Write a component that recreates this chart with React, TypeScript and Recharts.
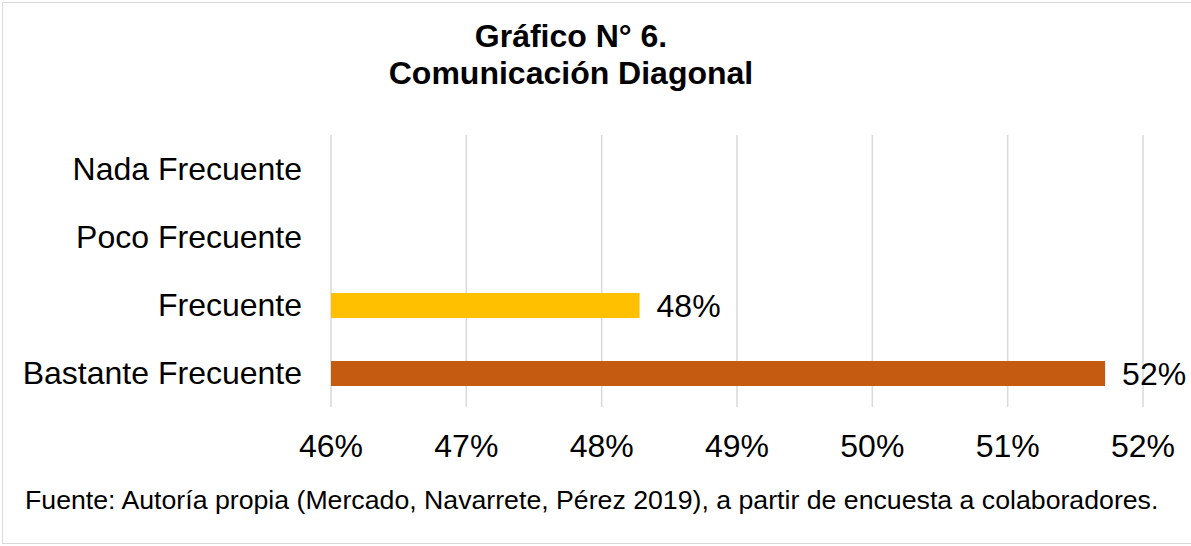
import React from "react";
import { BarChart, Bar, XAxis, YAxis, CartesianGrid, Cell, LabelList } from "recharts";

const categories = ["Nada Frecuente", "Poco Frecuente", "Frecuente", "Bastante Frecuente"];
const percentages: (number | null)[] = [null, null, 48.28, 51.72];
const barColors = ["#FFC000", "#FFC000", "#FFC000", "#C55A11"];
const xTicks = [46, 47, 48, 49, 50, 51, 52];

const data = categories.map((name, i) => ({ name, value: percentages[i] }));

const font = "'Liberation Sans', Arial, sans-serif";

const App = () => {
  return (
    <div
      style={{
        position: "absolute",
        left: 0,
        top: 0,
        width: 1191,
        height: 546,
        background: "#fff",
        fontFamily: font,
        overflow: "hidden",
      }}
    >
      <div
        style={{
          position: "absolute",
          left: 2,
          top: 2,
          width: 1200,
          height: 542,
          border: "1px solid #d9d9d9",
          boxSizing: "border-box",
        }}
      />
      <div
        style={{
          position: "absolute",
          left: 0,
          top: 18,
          width: 1142,
          textAlign: "center",
          fontWeight: "bold",
          fontSize: 32,
          lineHeight: "37px",
          color: "#000",
        }}
      >
        Gráfico N° 6.
        <br />
        Comunicación Diagonal
      </div>
      <BarChart
        width={1191}
        height={546}
        data={data}
        layout="vertical"
        margin={{ top: 135, right: 48, bottom: 79, left: 0 }}
        style={{ position: "absolute", left: 0, top: 0 }}
      >
        <CartesianGrid horizontal={false} vertical={true} stroke="#d9d9d9" strokeWidth={1.5} />
        <XAxis
          type="number"
          domain={[46, 52]}
          ticks={xTicks}
          allowDataOverflow
          axisLine={false}
          tickLine={false}
          tickSize={0}
          tickMargin={27}
          height={60}
          tickFormatter={(v: number) => `${v}%`}
          tick={{ fill: "#000", fontSize: 32, fontFamily: font }}
        />
        <YAxis
          type="category"
          dataKey="name"
          width={331}
          axisLine={false}
          tickLine={false}
          tickSize={0}
          tickMargin={29}
          tick={{ fill: "#000", fontSize: 32, fontFamily: font }}
        />
        <Bar dataKey="value" barSize={25} isAnimationActive={false}>
          {data.map((d, i) => (
            <Cell key={d.name} fill={barColors[i]} />
          ))}
          <LabelList
            dataKey="value"
            position="right"
            offset={17}
            formatter={(v: any) => (v == null ? "" : `${Math.round(v)}%`)}
            style={{ fill: "#000", fontSize: 32, fontFamily: font }}
          />
        </Bar>
      </BarChart>
      <div
        style={{
          position: "absolute",
          left: 25,
          top: 484,
          fontSize: 26.7,
          lineHeight: "32px",
          color: "#000",
          whiteSpace: "nowrap",
        }}
      >
        Fuente: Autoría propia (Mercado, Navarrete, Pérez 2019), a partir de encuesta a colaboradores.
      </div>
    </div>
  );
};

export default App;
